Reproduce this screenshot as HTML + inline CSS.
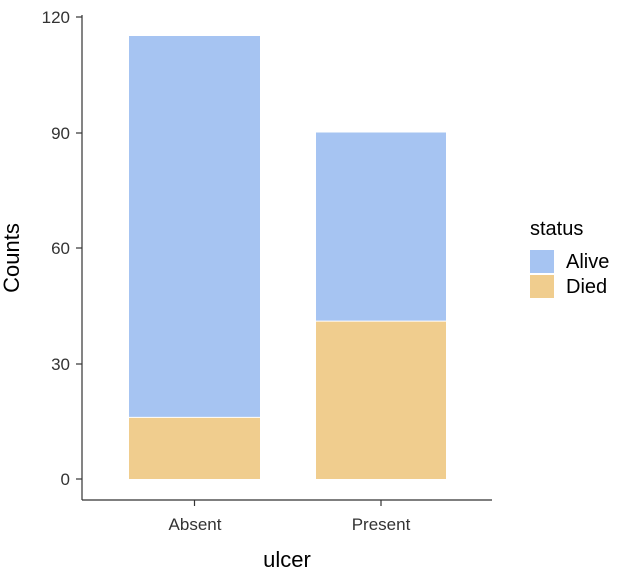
<!DOCTYPE html>
<html><head><style>body{margin:0;background:#fff}</style></head><body>
<svg width="627" height="577" xmlns="http://www.w3.org/2000/svg" font-family="Liberation Sans, Arial, sans-serif">
<rect width="627" height="577" fill="#fff"/>
<rect x="129" y="36" width="131" height="381.4" fill="#a6c4f2"/>
<rect x="129" y="417.4" width="131" height="61.6" fill="#f0cd8e"/>
<rect x="316" y="132.5" width="130" height="188.6" fill="#a6c4f2"/>
<rect x="316" y="321.1" width="130" height="157.9" fill="#f0cd8e"/>
<line x1="129" y1="417.4" x2="260" y2="417.4" stroke="#fff" stroke-width="1"/>
<line x1="316" y1="321.1" x2="446" y2="321.1" stroke="#fff" stroke-width="1"/>
<g stroke="#333" stroke-width="1.2">
<line x1="82" y1="15" x2="82" y2="500"/>
<line x1="82" y1="500" x2="492" y2="500"/>
<line x1="76" y1="17" x2="82" y2="17"/>
<line x1="76" y1="133" x2="82" y2="133"/>
<line x1="76" y1="248" x2="82" y2="248"/>
<line x1="76" y1="364" x2="82" y2="364"/>
<line x1="76" y1="479" x2="82" y2="479"/>
<line x1="194.5" y1="500" x2="194.5" y2="506"/>
<line x1="381" y1="500" x2="381" y2="506"/>
</g>
<g font-size="17" fill="#333" text-anchor="end">
<text x="70" y="23">120</text>
<text x="70" y="139">90</text>
<text x="70" y="254">60</text>
<text x="70" y="370">30</text>
<text x="70" y="485">0</text>
</g>
<g font-size="17" fill="#333" text-anchor="middle">
<text x="195" y="530">Absent</text>
<text x="381" y="530">Present</text>
</g>
<text x="287" y="567" font-size="22" text-anchor="middle" fill="#000">ulcer</text>
<text transform="translate(19,258) rotate(-90)" font-size="22" text-anchor="middle" fill="#000">Counts</text>
<text x="530" y="235" font-size="20" fill="#000">status</text>
<rect x="530" y="250" width="24" height="23" fill="#a6c4f2"/>
<rect x="530" y="275" width="24" height="23" fill="#f0cd8e"/>
<text x="566" y="268" font-size="20" fill="#000">Alive</text>
<text x="566" y="293" font-size="20" fill="#000">Died</text>
</svg>
</body></html>
